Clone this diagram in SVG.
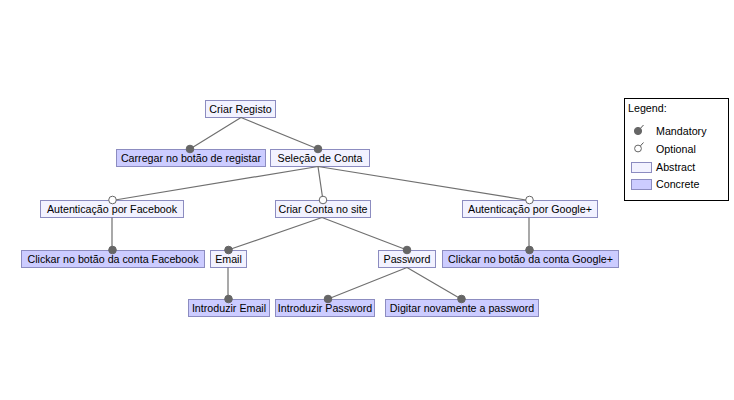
<svg xmlns="http://www.w3.org/2000/svg" width="734" height="400" viewBox="0 0 734 400">
<style>
.abs{fill:#f2f2ff;stroke:#8c8cc0;stroke-width:1}
.con{fill:#ccccff;stroke:#8c8cc0;stroke-width:1}
text{font-family:"Liberation Sans",Arial,sans-serif;font-size:10.7px;fill:#000}
.c{text-anchor:middle}
.ln{stroke:#707070;stroke-width:1.2;fill:none}
.m{fill:#666666;stroke:#666666}
.o{fill:#ffffff;stroke:#666666;stroke-width:1}
</style>
<rect width="734" height="400" fill="#ffffff"/>
<g id="nodes">
<g id="criar-registo"><rect class="abs" x="205.5" y="100.5" width="70" height="17"/><text class="c" x="240.5" y="113">Criar Registo</text></g>
<g id="carregar"><rect class="con" x="116.5" y="149.5" width="149" height="17"/><text class="c" x="191" y="162">Carregar no botão de registar</text></g>
<g id="selecao"><rect class="abs" x="270.5" y="149.5" width="99" height="17"/><text class="c" x="320" y="162">Seleção de Conta</text></g>
<g id="aut-facebook"><rect class="abs" x="40.5" y="200.5" width="143" height="17"/><text class="c" x="112" y="213">Autenticação por Facebook</text></g>
<g id="criar-conta"><rect class="abs" x="275.5" y="200.5" width="95" height="17"/><text class="c" x="323" y="213">Criar Conta no site</text></g>
<g id="aut-google"><rect class="abs" x="462.5" y="200.5" width="135" height="17"/><text class="c" x="530" y="213">Autenticação por Google+</text></g>
<g id="click-facebook"><rect class="con" x="21.5" y="250.5" width="183" height="17"/><text class="c" x="113" y="263">Clickar no botão da conta Facebook</text></g>
<g id="email"><rect class="abs" x="210.5" y="250.5" width="36" height="17"/><text class="c" x="228.5" y="263">Email</text></g>
<g id="password"><rect class="abs" x="378.5" y="250.5" width="57" height="17"/><text class="c" x="407" y="263">Password</text></g>
<g id="click-google"><rect class="con" x="442.5" y="250.5" width="176" height="17"/><text class="c" x="530.5" y="263">Clickar no botão da conta Google+</text></g>
<g id="intro-email"><rect class="con" x="188.5" y="299.5" width="81" height="17"/><text class="c" x="229" y="312">Introduzir Email</text></g>
<g id="intro-password"><rect class="con" x="275.5" y="299.5" width="99" height="17"/><text class="c" x="325" y="312">Introduzir Password</text></g>
<g id="digitar"><rect class="con" x="385.5" y="299.5" width="153" height="17"/><text class="c" x="462" y="312">Digitar novamente a password</text></g>
</g>
<g id="connectors">
<path class="ln" d="M241,117.5 L190,149 M241,117.5 L318,149"/>
<path class="ln" d="M318,166.5 L112,200.5 M318,166.5 L323,200.5 M318,166.5 L529,200.5"/>
<path class="ln" d="M112,217.5 L112,250 M529,217.5 L529,250"/>
<path class="ln" d="M322,217.5 L228,250 M322,217.5 L407,250"/>
<path class="ln" d="M228,267.5 L228,299"/>
<path class="ln" d="M407,267.5 L328,299 M407,267.5 L461,299"/>
<circle class="m" cx="190" cy="149" r="3.8"/>
<circle class="m" cx="318" cy="149" r="3.8"/>
<circle class="o" cx="112.5" cy="200" r="3.8"/>
<circle class="o" cx="323" cy="200" r="3.8"/>
<circle class="o" cx="529.5" cy="200" r="3.8"/>
<circle class="m" cx="112.5" cy="250" r="3.8"/>
<circle class="m" cx="228.5" cy="250" r="3.8"/>
<circle class="m" cx="407" cy="250" r="3.8"/>
<circle class="m" cx="529.5" cy="250" r="3.8"/>
<circle class="m" cx="228.5" cy="299" r="3.8"/>
<circle class="m" cx="328" cy="299" r="3.8"/>
<circle class="m" cx="461.5" cy="299" r="3.8"/>
</g>
<g id="legend">
<rect x="624.5" y="98.5" width="104" height="102" fill="#ffffff" stroke="#000000" stroke-width="1"/>
<text x="628" y="112">Legend:</text>
<line x1="638" y1="131" x2="643.5" y2="125" stroke="#555555" stroke-width="1"/>
<circle class="m" cx="638" cy="131" r="3.6"/>
<text x="656" y="135">Mandatory</text>
<line x1="638" y1="148.5" x2="643.5" y2="142.5" stroke="#555555" stroke-width="1"/>
<circle class="o" cx="638" cy="148.5" r="3.4"/>
<text x="656" y="152.5">Optional</text>
<rect class="abs" x="631.5" y="162.5" width="20" height="10"/>
<text x="656" y="171">Abstract</text>
<rect class="con" x="631.5" y="179.5" width="20" height="10"/>
<text x="656" y="188">Concrete</text>
</g>
</svg>
